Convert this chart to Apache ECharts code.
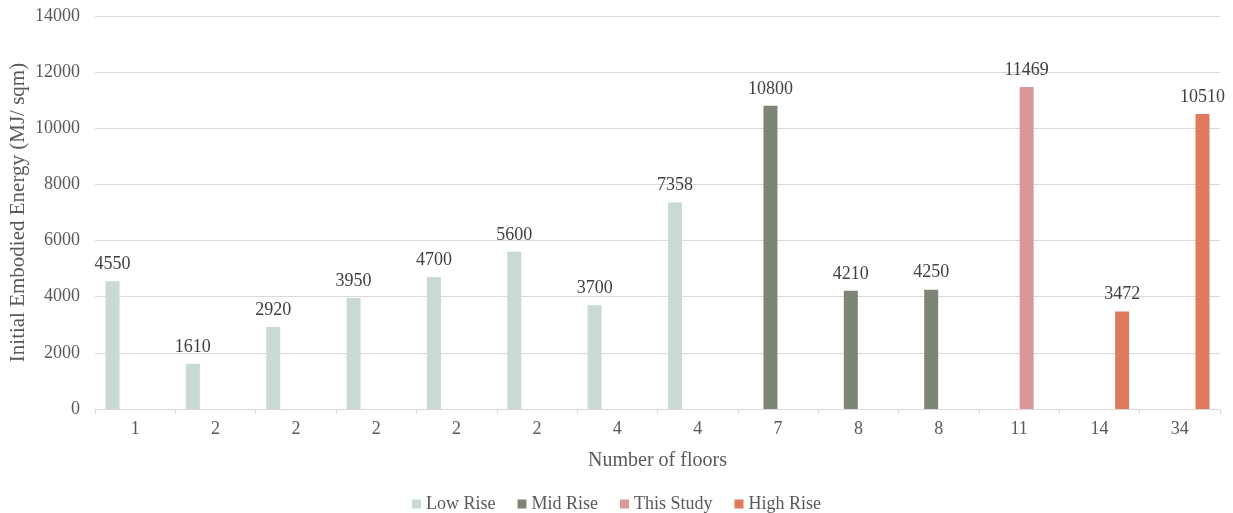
<!DOCTYPE html>
<html>
<head>
<meta charset="utf-8">
<script src="https://cdn.jsdelivr.net/npm/echarts@6/dist/echarts.min.js"></script>
<style>html,body{margin:0;padding:0;background:#fff;}#c{width:1233px;height:513px;}</style>
</head>
<body>
<div id="c"></div>
<script>
const categories = ['1','2','2','2','2','2','4','4','7','8','8','11','14','34'];
const lowRise   = [4550,1610,2920,3950,4700,5600,3700,7358,null,null,null,null,null,null];
const midRise   = [null,null,null,null,null,null,null,null,10800,4210,4250,null,null,null];
const thisStudy = [null,null,null,null,null,null,null,null,null,null,null,11469,null,null];
const highRise  = [null,null,null,null,null,null,null,null,null,null,null,null,3472,10510];
const seriesNames = ['Low Rise','Mid Rise','This Study','High Rise'];
const colors = ['#c9d9d5','#7d8577','#d9979a','#e07a5c'];
const yTicks = {min:0,max:14000,interval:2000};

const font = '"Liberation Serif","Times New Roman",serif';
const chart = echarts.init(document.getElementById('c'));
function mk(name, data, color){
  return {
    name, type:'bar', data, barWidth:14, barGap:'8%',
    itemStyle:{color},
    label:{show:true, position:'top', distance:8, color:'#404040', fontFamily:font, fontSize:18},
    animation:false
  };
}
chart.setOption({
  animation:false,
  textStyle:{fontFamily:font},
  grid:{left:95,right:13,top:16,bottom:104,containLabel:false,outerBoundsMode:'none'},
  legend:{
    top:490, left:'center', itemWidth:9, itemHeight:9, itemGap:22, icon:'rect',
    textStyle:{fontFamily:font,fontSize:18,color:'#595959'},
    data:seriesNames
  },
  xAxis:{
    type:'category', data:categories,
    name:'Number of floors', nameLocation:'middle', nameGap:42, nameMoveOverlap:false,
    nameTextStyle:{fontFamily:font,fontSize:20,color:'#595959'},
    axisLine:{lineStyle:{color:'#d9d9d9'}},
    axisTick:{show:true,length:5,lineStyle:{color:'#d9d9d9'}},
    axisLabel:{fontFamily:font,fontSize:18,color:'#595959',margin:11}
  },
  yAxis:{
    type:'value', min:yTicks.min, max:yTicks.max, interval:yTicks.interval,
    name:'Initial Embodied Energy (MJ/ sqm)', nameLocation:'middle', nameGap:66, nameMoveOverlap:false,
    nameTextStyle:{fontFamily:font,fontSize:21,color:'#595959'},
    axisLine:{show:false}, axisTick:{show:false},
    axisLabel:{fontFamily:font,fontSize:18,color:'#595959',margin:15,formatter:v=>String(v)},
    splitLine:{lineStyle:{color:'#d9d9d9'}}
  },
  series:[
    mk(seriesNames[0], lowRise, colors[0]),
    mk(seriesNames[1], midRise, colors[1]),
    mk(seriesNames[2], thisStudy, colors[2]),
    mk(seriesNames[3], highRise, colors[3])
  ]
});
</script>
</body>
</html>
